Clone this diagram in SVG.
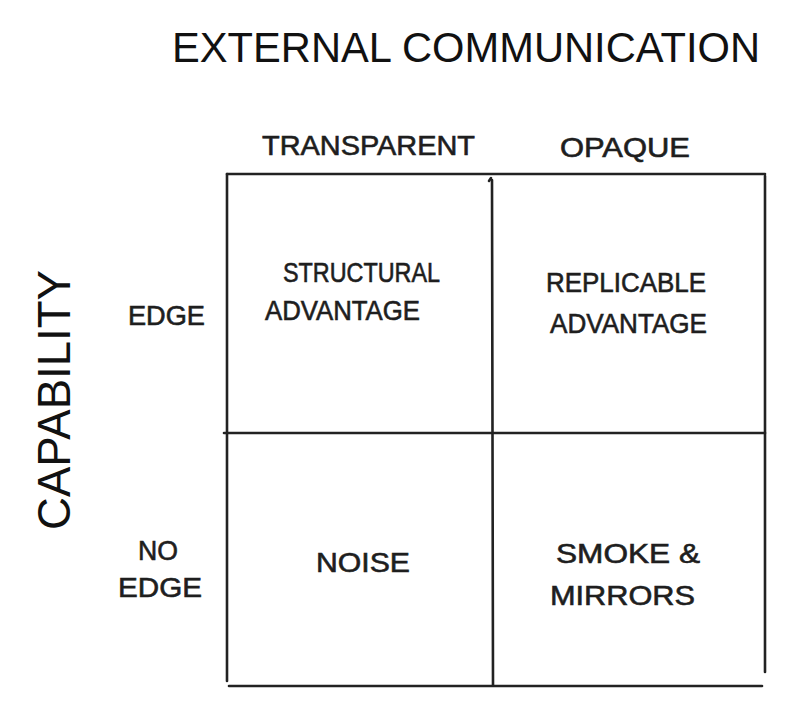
<svg xmlns="http://www.w3.org/2000/svg" width="800" height="725" viewBox="0 0 800 725">
<style>
.title{font-family:"Liberation Sans","Noto Sans",sans-serif;font-size:42px;fill:#111}
.hand{font-family:"Liberation Sans","DejaVu Sans",sans-serif;font-size:27px;fill:#1e1e1e;stroke:#1e1e1e;stroke-width:0.6}
.grid{stroke:#222;stroke-width:2.6;fill:none;stroke-linecap:round}
</style>
<rect width="800" height="725" fill="#fff"/>
<g id="title"><text class="title" x="172" y="62" textLength="588" lengthAdjust="spacingAndGlyphs">EXTERNAL COMMUNICATION</text></g>
<g id="axis-y"><text class="title" transform="translate(70,530) rotate(-90)" x="0" y="0" style="font-size:46px" textLength="260" lengthAdjust="spacingAndGlyphs">CAPABILITY</text></g>
<g id="col-transparent"><text class="hand" x="262" y="155" textLength="213" lengthAdjust="spacingAndGlyphs">TRANSPARENT</text></g>
<g id="col-opaque"><text class="hand" x="560" y="157" textLength="130" lengthAdjust="spacingAndGlyphs">OPAQUE</text></g>
<g id="row-edge"><text class="hand" x="128" y="325" textLength="77" lengthAdjust="spacingAndGlyphs">EDGE</text></g>
<g id="row-noedge"><text class="hand" x="138" y="560" textLength="40" lengthAdjust="spacingAndGlyphs">NO</text><text class="hand" x="118" y="597" textLength="84" lengthAdjust="spacingAndGlyphs">EDGE</text></g>
<g id="connectors">
<path class="grid" d="M227 174 L765 174"/>
<path class="grid" d="M227 174 L227 681"/>
<path class="grid" d="M765 176 L765 672"/>
<path class="grid" d="M229 686 L762 686"/>
<path class="grid" d="M224 433 L765 433"/>
<path class="grid" d="M492 180 L493 685"/>
<path class="grid" d="M489 181 L491 178" stroke-width="1.6"/>
</g>
<g id="q-structural"><text class="hand" x="283" y="282" textLength="157" lengthAdjust="spacingAndGlyphs">STRUCTURAL</text><text class="hand" x="265" y="320" textLength="155" lengthAdjust="spacingAndGlyphs">ADVANTAGE</text></g>
<g id="q-replicable"><text class="hand" x="546" y="292" textLength="160" lengthAdjust="spacingAndGlyphs">REPLICABLE</text><text class="hand" x="550" y="333" textLength="157" lengthAdjust="spacingAndGlyphs">ADVANTAGE</text></g>
<g id="q-noise"><text class="hand" x="316" y="572" textLength="94" lengthAdjust="spacingAndGlyphs">NOISE</text></g>
<g id="q-smoke"><text class="hand" x="556" y="563" textLength="144" lengthAdjust="spacingAndGlyphs">SMOKE &amp;</text><text class="hand" x="550" y="605" textLength="145" lengthAdjust="spacingAndGlyphs">MIRRORS</text></g>
</svg>
